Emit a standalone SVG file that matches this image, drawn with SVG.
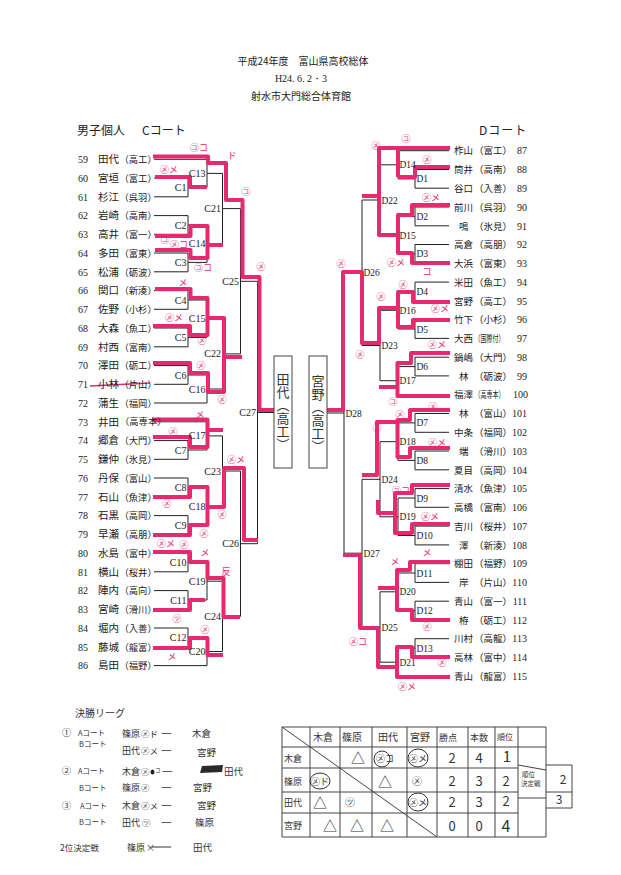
<svg xmlns="http://www.w3.org/2000/svg" width="621" height="875" viewBox="0 0 621 875">
<style>
.t{font-family:"Noto Sans CJK JP","Noto Sans CJK SC",sans-serif;fill:#222}
.num{font-family:"Liberation Serif",serif;font-size:10px;fill:#222}
.nm{font-family:"Noto Sans CJK JP",sans-serif;font-size:10.5px;fill:#222}
.sc{font-family:"Noto Sans CJK JP",sans-serif;font-size:9.3px;fill:#222}
.nr{font-family:"Noto Sans CJK JP",sans-serif;font-size:9.5px;fill:#222}
.sr{font-family:"Noto Sans CJK JP",sans-serif;font-size:9.5px;fill:#222}
.nn{font-family:"Liberation Serif",serif;font-size:10px;fill:#222;text-anchor:end}
.ll{font-family:"Liberation Serif",serif;font-size:10px;fill:#222;text-anchor:end}
.lr{font-family:"Liberation Serif",serif;font-size:9.5px;fill:#222}
.ln{fill:none;stroke:#222;stroke-width:1}
.pk{fill:none;stroke:#e52a6f;stroke-width:4;stroke-linejoin:round}
.pm{font-family:"Noto Sans CJK JP",sans-serif;font-size:9px;fill:#e52a6f;text-anchor:middle}
.hw{font-family:"Noto Sans CJK JP",sans-serif;fill:#333}
.tb{fill:none;stroke:#444;stroke-width:1}
.vt{font-family:"Noto Sans CJK JP",sans-serif;font-size:13px;fill:#333;writing-mode:vertical-rl;text-anchor:middle}
</style>
<rect width="621" height="875" fill="#fff"/>

<g id="header">
<text class="t" x="303" y="64.5" font-size="10" text-anchor="middle">平成24年度　富山県高校総体</text>
<text x="301" y="82" font-family="Liberation Serif,serif" font-size="10" fill="#222" text-anchor="middle">H24. 6. 2・3</text>
<text class="t" x="301" y="99.5" font-size="10" text-anchor="middle">射水市大門総合体育館</text>
<text class="t" x="77" y="135" font-size="12">男子個人</text>
<text class="t" x="142" y="135" font-size="12">Cコート</text>
<text class="t" x="479" y="135" font-size="12" letter-spacing="1">Dコート</text>
</g>

<g id="connectors" class="ln">
<path d="M154,178H188M154,196.8H188M154,215.6H188M154,234.3H188M154,253H188M154,271.8H188M154,290.6H188M154,309.3H188M154,328H188M154,346.8H188M154,365.6H188M154,384.3H188M154,440.6H188M154,459.3H188M154,478H188M154,496.8H188M154,515.6H188M154,534.3H188M154,553H188M154,571.8H188M154,590.6H188M154,609.3H188M154,628H188M154,646.8H188M154,159.3H207M154,403H207M154,421.8H207M154,665.6H207"/>
<path d="M188,178V196.8M188,215.6V234.3M188,253V271.8M188,290.6V309.3M188,328V346.8M188,365.6V384.3M188,440.6V459.3M188,478V496.8M188,515.6V534.3M188,553V571.8M188,590.6V609.3M188,628V646.8"/>
<path d="M188,187.4H207M188,225H207M188,262.4H207M188,300H207M188,337.4H207M188,375H207M188,450H207M188,487.4H207M188,525H207M188,562.4H207M188,600H207M188,637.4H207"/>
<path d="M207,159.3V187.4M207,225V262.4M207,300V337.4M207,375V403M207,421.8V450M207,487.4V525M207,562.4V600M207,637.4V665.6"/>
<path d="M207,173.4H222.5M207,243.7H222.5M207,318.7H222.5M207,389H222.5M207,435.9H222.5M207,506.2H222.5M207,581.2H222.5M207,651.5H222.5"/>
<path d="M222.5,173.4V243.7M222.5,318.7V389M222.5,435.9V506.2M222.5,581.2V651.5M222.5,208.6H240.5M222.5,353.9H240.5M222.5,471H240.5M222.5,616.4H240.5"/>
<path d="M240.5,208.6V353.9M240.5,471V616.4M240.5,281.3H257.5M240.5,543.7H257.5M257.5,281.3V543.7M257.5,412.5H274"/>
<path d="M449,169.5H415M449,188.2H415M449,207H415M449,225.8H415M449,244.5H415M449,263.3H415M449,282.1H415M449,300.9H415M449,319.6H415M449,338.4H415M449,357.2H415M449,375.9H415M449,413.5H415M449,432.3H415M449,451H415M449,469.8H415M449,488.6H415M449,507.3H415M449,526.1H415M449,544.9H415M449,563.7H415M449,582.4H415M449,601.2H415M449,620H415M449,638.7H415M449,657.5H415M449,150.7H398M449,394.7H398M449,676.3H398"/>
<path d="M415,169.5V188.2M415,207V225.8M415,244.5V263.3M415,282.1V300.9M415,319.6V338.4M415,357.2V375.9M415,413.5V432.3M415,451V469.8M415,488.6V507.3M415,526.1V544.9M415,563.7V582.4M415,601.2V620M415,638.7V657.5"/>
<path d="M415,178.9H398M415,216.4H398M415,253.9H398M415,291.5H398M415,329H398M415,366.6H398M415,422.9H398M415,460.4H398M415,498H398M415,535.5H398M415,573H398M415,610.6H398M415,648.1H398"/>
<path d="M398,150.7V178.9M398,216.4V253.9M398,291.5V329M398,366.6V394.7M398,422.9V460.4M398,498V535.5M398,573V610.6M398,648.1V676.3"/>
<path d="M398,164.8H380M398,235.2H380M398,310.3H380M398,380.7H380M398,441.7H380M398,516.8H380M398,591.8H380M398,662.2H380"/>
<path d="M380,164.8V235.2M380,310.3V380.7M380,441.7V516.8M380,591.8V662.2M380,200H362M380,345.5H362M380,479.3H362M380,627H362"/>
<path d="M362,200V345.5M362,479.3V627M362,272.8H344M362,553.2H344M344,272.8V553.2M344,413H327"/>
</g>

<g id="winner-lines" class="pk">
<path d="M153,156.5H208V163H226V200H242.5V277H259.5V410H274"/>
<path d="M155,177H190V187H207"/>
<path d="M155,236H190.5V226H207.5V258H190.5V250H155M207.5,245H223"/>
<path d="M155,289H190.5V298H207.5V335H190V326H153"/>
<path d="M207.5,318H224V392H208V373H190V363H153M224,357H242"/>
<path d="M153,419.5H207.5V447H190V437H153M207.5,430H223"/>
<path d="M153,497H190V487H207.5V525H190V535H153M207.5,507H224V468H244V540H258"/>
<path d="M153,552H190V562H207.5V578H223.5V617H240"/>
<path d="M153,610H190V600H205"/>
<path d="M153,648H190V638H207.5V655H223"/>
<path d="M450,148H379V196H362M398,148V177"/>
<path d="M450,167H415V177H398"/>
<path d="M450,205H412V215H398V253H412V263H450M398,235H379V196"/>
<path d="M450,302H413V292H398V327H413V320H450"/>
<path d="M398,308H379V343H362V272H343V410H327"/>
<path d="M450,353H411V363H397.5V396H450M397.5,387H379"/>
<path d="M450,410H410V420H397.5V457H410V448H450M397.5,422H377V475H362"/>
<path d="M450,485H412V493H395V533H412V524H450M395,513H378V500"/>
<path d="M450,562H410V570H397V610H412V620H450M397,588H378"/>
<path d="M450,657H412V647H397V677H450M397,667H378V628H360V555H343"/>
<path d="M90,386L150,383" stroke-width="1.5"/>
</g>

<g id="players-c">
<g id="p59"><text class="num" x="78" y="163">59</text><text class="nm" x="98" y="163">田代</text><text class="sc" x="119.5" y="163">（高工）</text></g>
<g id="p60"><text class="num" x="78" y="181.7">60</text><text class="nm" x="98" y="181.7">宮垣</text><text class="sc" x="119.5" y="181.7">（富工）</text></g>
<g id="p61"><text class="num" x="78" y="200.5">61</text><text class="nm" x="98" y="200.5">杉江</text><text class="sc" x="119.5" y="200.5">（呉羽）</text></g>
<g id="p62"><text class="num" x="78" y="219.3">62</text><text class="nm" x="98" y="219.3">岩崎</text><text class="sc" x="119.5" y="219.3">（高南）</text></g>
<g id="p63"><text class="num" x="78" y="238">63</text><text class="nm" x="98" y="238">高井</text><text class="sc" x="119.5" y="238">（富一）</text></g>
<g id="p64"><text class="num" x="78" y="256.7">64</text><text class="nm" x="98" y="256.7">多田</text><text class="sc" x="119.5" y="256.7">（富東）</text></g>
<g id="p65"><text class="num" x="78" y="275.5">65</text><text class="nm" x="98" y="275.5">松浦</text><text class="sc" x="119.5" y="275.5">（砺波）</text></g>
<g id="p66"><text class="num" x="78" y="294.3">66</text><text class="nm" x="98" y="294.3">関口</text><text class="sc" x="119.5" y="294.3">（新湊）</text></g>
<g id="p67"><text class="num" x="78" y="313">67</text><text class="nm" x="98" y="313">佐野</text><text class="sc" x="119.5" y="313">（小杉）</text></g>
<g id="p68"><text class="num" x="78" y="331.7">68</text><text class="nm" x="98" y="331.7">大森</text><text class="sc" x="119.5" y="331.7">（魚工）</text></g>
<g id="p69"><text class="num" x="78" y="350.5">69</text><text class="nm" x="98" y="350.5">村西</text><text class="sc" x="119.5" y="350.5">（富南）</text></g>
<g id="p70"><text class="num" x="78" y="369.3">70</text><text class="nm" x="98" y="369.3">澤田</text><text class="sc" x="119.5" y="369.3">（砺工）</text></g>
<g id="p71"><text class="num" x="78" y="388">71</text><text class="nm" x="98" y="388">小林</text><text class="sc" x="119.5" y="388">（片山）</text></g>
<g id="p72"><text class="num" x="78" y="406.7">72</text><text class="nm" x="98" y="406.7">蒲生</text><text class="sc" x="119.5" y="406.7">（福岡）</text></g>
<g id="p73"><text class="num" x="78" y="425.5">73</text><text class="nm" x="98" y="425.5">井田</text><text class="sc" x="120" y="425" font-size="6.6">（高専本）</text></g>
<g id="p74"><text class="num" x="78" y="444.3">74</text><text class="nm" x="98" y="444.3">郷倉</text><text class="sc" x="119.5" y="444.3">（大門）</text></g>
<g id="p75"><text class="num" x="78" y="463">75</text><text class="nm" x="98" y="463">鎌仲</text><text class="sc" x="119.5" y="463">（氷見）</text></g>
<g id="p76"><text class="num" x="78" y="481.7">76</text><text class="nm" x="98" y="481.7">丹保</text><text class="sc" x="119.5" y="481.7">（富山）</text></g>
<g id="p77"><text class="num" x="78" y="500.5">77</text><text class="nm" x="98" y="500.5">石山</text><text class="sc" x="119.5" y="500.5">（魚津）</text></g>
<g id="p78"><text class="num" x="78" y="519.3">78</text><text class="nm" x="98" y="519.3">石黒</text><text class="sc" x="119.5" y="519.3">（高岡）</text></g>
<g id="p79"><text class="num" x="78" y="538">79</text><text class="nm" x="98" y="538">早瀬</text><text class="sc" x="119.5" y="538">（高朋）</text></g>
<g id="p80"><text class="num" x="78" y="556.7">80</text><text class="nm" x="98" y="556.7">水島</text><text class="sc" x="119.5" y="556.7">（富中）</text></g>
<g id="p81"><text class="num" x="78" y="575.5">81</text><text class="nm" x="98" y="575.5">横山</text><text class="sc" x="119.5" y="575.5">（桜井）</text></g>
<g id="p82"><text class="num" x="78" y="594.3">82</text><text class="nm" x="98" y="594.3">陣内</text><text class="sc" x="119.5" y="594.3">（高向）</text></g>
<g id="p83"><text class="num" x="78" y="613">83</text><text class="nm" x="98" y="613">宮崎</text><text class="sc" x="119.5" y="613">（滑川）</text></g>
<g id="p84"><text class="num" x="78" y="631.7">84</text><text class="nm" x="98" y="631.7">堀内</text><text class="sc" x="119.5" y="631.7">（入善）</text></g>
<g id="p85"><text class="num" x="78" y="650.5">85</text><text class="nm" x="98" y="650.5">藤城</text><text class="sc" x="119.5" y="650.5">（龍富）</text></g>
<g id="p86"><text class="num" x="78" y="669.3">86</text><text class="nm" x="98" y="669.3">島田</text><text class="sc" x="119.5" y="669.3">（福野）</text></g>
</g>

<g id="players-d">
<g id="p87"><text class="nr" x="454" y="154.4">柞山</text><text class="sr" x="474" y="154.4">（富工）</text><text class="nn" x="527" y="154.4">87</text></g>
<g id="p88"><text class="nr" x="454" y="173.2">筒井</text><text class="sr" x="474" y="173.2">（高南）</text><text class="nn" x="527" y="173.2">88</text></g>
<g id="p89"><text class="nr" x="454" y="191.9">谷口</text><text class="sr" x="474" y="191.9">（入善）</text><text class="nn" x="527" y="191.9">89</text></g>
<g id="p90"><text class="nr" x="454" y="210.7">前川</text><text class="sr" x="474" y="210.7">（呉羽）</text><text class="nn" x="527" y="210.7">90</text></g>
<g id="p91"><text class="nr" x="459" y="229.5">鳴</text><text class="sr" x="474" y="229.5">（氷見）</text><text class="nn" x="527" y="229.5">91</text></g>
<g id="p92"><text class="nr" x="454" y="248.2">高倉</text><text class="sr" x="474" y="248.2">（高朋）</text><text class="nn" x="527" y="248.2">92</text></g>
<g id="p93"><text class="nr" x="454" y="267">大浜</text><text class="sr" x="474" y="267">（富東）</text><text class="nn" x="527" y="267">93</text></g>
<g id="p94"><text class="nr" x="454" y="285.8">米田</text><text class="sr" x="474" y="285.8">（魚工）</text><text class="nn" x="527" y="285.8">94</text></g>
<g id="p95"><text class="nr" x="454" y="304.6">宮野</text><text class="sr" x="474" y="304.6">（高工）</text><text class="nn" x="527" y="304.6">95</text></g>
<g id="p96"><text class="nr" x="454" y="323.3">竹下</text><text class="sr" x="474" y="323.3">（小杉）</text><text class="nn" x="527" y="323.3">96</text></g>
<g id="p97"><text class="nr" x="454" y="342.1">大西</text><text class="sr" x="474.5" y="341.6" font-size="6.4" textLength="30" lengthAdjust="spacingAndGlyphs">（国際付）</text><text class="nn" x="527" y="342.1">97</text></g>
<g id="p98"><text class="nr" x="454" y="360.9">鍋嶋</text><text class="sr" x="474" y="360.9">（大門）</text><text class="nn" x="527" y="360.9">98</text></g>
<g id="p99"><text class="nr" x="459" y="379.6">林</text><text class="sr" x="474" y="379.6">（砺波）</text><text class="nn" x="527" y="379.6">99</text></g>
<g id="p100"><text class="nr" x="454" y="398.4">福澤</text><text class="sr" x="474.5" y="397.9" font-size="6.4" textLength="30" lengthAdjust="spacingAndGlyphs">（高専本）</text><text class="nn" x="528" y="398.4">100</text></g>
<g id="p101"><text class="nr" x="459" y="417.2">林</text><text class="sr" x="474" y="417.2">（富山）</text><text class="nn" x="527" y="417.2">101</text></g>
<g id="p102"><text class="nr" x="454" y="436">中条</text><text class="sr" x="474" y="436">（福岡）</text><text class="nn" x="527" y="436">102</text></g>
<g id="p103"><text class="nr" x="459" y="454.7">端</text><text class="sr" x="474" y="454.7">（滑川）</text><text class="nn" x="527" y="454.7">103</text></g>
<g id="p104"><text class="nr" x="454" y="473.5">夏目</text><text class="sr" x="474" y="473.5">（高岡）</text><text class="nn" x="527" y="473.5">104</text></g>
<g id="p105"><text class="nr" x="454" y="492.3">清水</text><text class="sr" x="474" y="492.3">（魚津）</text><text class="nn" x="527" y="492.3">105</text></g>
<g id="p106"><text class="nr" x="454" y="511">高橋</text><text class="sr" x="474" y="511">（富南）</text><text class="nn" x="527" y="511">106</text></g>
<g id="p107"><text class="nr" x="454" y="529.8">吉川</text><text class="sr" x="474" y="529.8">（桜井）</text><text class="nn" x="527" y="529.8">107</text></g>
<g id="p108"><text class="nr" x="459" y="548.6">澤</text><text class="sr" x="474" y="548.6">（新湊）</text><text class="nn" x="527" y="548.6">108</text></g>
<g id="p109"><text class="nr" x="454" y="567.4">棚田</text><text class="sr" x="474" y="567.4">（福野）</text><text class="nn" x="527" y="567.4">109</text></g>
<g id="p110"><text class="nr" x="459" y="586.1">岸</text><text class="sr" x="474" y="586.1">（片山）</text><text class="nn" x="527" y="586.1">110</text></g>
<g id="p111"><text class="nr" x="454" y="604.9">青山</text><text class="sr" x="474" y="604.9">（富一）</text><text class="nn" x="527" y="604.9">111</text></g>
<g id="p112"><text class="nr" x="459" y="623.7">栫</text><text class="sr" x="474" y="623.7">（砺工）</text><text class="nn" x="527" y="623.7">112</text></g>
<g id="p113"><text class="nr" x="454" y="642.4">川村</text><text class="sr" x="474" y="642.4">（高龍）</text><text class="nn" x="527" y="642.4">113</text></g>
<g id="p114"><text class="nr" x="454" y="661.2">高林</text><text class="sr" x="474" y="661.2">（富中）</text><text class="nn" x="527" y="661.2">114</text></g>
<g id="p115"><text class="nr" x="454" y="680">青山</text><text class="sr" x="474" y="680">（龍富）</text><text class="nn" x="527" y="680">115</text></g>
</g>

<g id="matches-c">
<g id="C1"><text class="ll" x="186.5" y="190.9">C1</text></g>
<g id="C2"><text class="ll" x="186.5" y="228.5">C2</text></g>
<g id="C3"><text class="ll" x="186.5" y="265.9">C3</text></g>
<g id="C4"><text class="ll" x="186.5" y="303.5">C4</text></g>
<g id="C5"><text class="ll" x="186.5" y="340.9">C5</text></g>
<g id="C6"><text class="ll" x="186.5" y="378.5">C6</text></g>
<g id="C7"><text class="ll" x="186.5" y="453.5">C7</text></g>
<g id="C8"><text class="ll" x="186.5" y="490.9">C8</text></g>
<g id="C9"><text class="ll" x="186.5" y="528.5">C9</text></g>
<g id="C10"><text class="ll" x="186.5" y="565.9">C10</text></g>
<g id="C11"><text class="ll" x="186.5" y="603.5">C11</text></g>
<g id="C12"><text class="ll" x="186.5" y="640.9">C12</text></g>
<g id="C13"><text class="ll" x="205.5" y="176.9">C13</text></g>
<g id="C14"><text class="ll" x="205.5" y="247.2">C14</text></g>
<g id="C15"><text class="ll" x="205.5" y="322.2">C15</text></g>
<g id="C16"><text class="ll" x="205.5" y="392.5">C16</text></g>
<g id="C17"><text class="ll" x="205.5" y="439.4">C17</text></g>
<g id="C18"><text class="ll" x="205.5" y="509.7">C18</text></g>
<g id="C19"><text class="ll" x="205.5" y="584.7">C19</text></g>
<g id="C20"><text class="ll" x="205.5" y="655">C20</text></g>
<g id="C21"><text class="ll" x="221" y="212.1">C21</text></g>
<g id="C22"><text class="ll" x="221" y="357.4">C22</text></g>
<g id="C23"><text class="ll" x="221" y="474.5">C23</text></g>
<g id="C24"><text class="ll" x="221" y="619.9">C24</text></g>
<g id="C25"><text class="ll" x="239" y="284.8">C25</text></g>
<g id="C26"><text class="ll" x="239" y="547.2">C26</text></g>
<g id="C27"><text class="ll" x="256" y="416">C27</text></g>
</g>

<g id="matches-d">
<g id="D1"><text class="lr" x="416.5" y="182.4">D1</text></g>
<g id="D2"><text class="lr" x="416.5" y="219.9">D2</text></g>
<g id="D3"><text class="lr" x="416.5" y="257.4">D3</text></g>
<g id="D4"><text class="lr" x="416.5" y="295">D4</text></g>
<g id="D5"><text class="lr" x="416.5" y="332.5">D5</text></g>
<g id="D6"><text class="lr" x="416.5" y="370.1">D6</text></g>
<g id="D7"><text class="lr" x="416.5" y="426.4">D7</text></g>
<g id="D8"><text class="lr" x="416.5" y="463.9">D8</text></g>
<g id="D9"><text class="lr" x="416.5" y="501.5">D9</text></g>
<g id="D10"><text class="lr" x="416.5" y="539">D10</text></g>
<g id="D11"><text class="lr" x="416.5" y="576.5">D11</text></g>
<g id="D12"><text class="lr" x="416.5" y="614.1">D12</text></g>
<g id="D13"><text class="lr" x="416.5" y="651.6">D13</text></g>
<g id="D14"><text class="lr" x="399.5" y="168.3">D14</text></g>
<g id="D15"><text class="lr" x="399.5" y="238.7">D15</text></g>
<g id="D16"><text class="lr" x="399.5" y="313.8">D16</text></g>
<g id="D17"><text class="lr" x="399.5" y="384.2">D17</text></g>
<g id="D18"><text class="lr" x="399.5" y="445.2">D18</text></g>
<g id="D19"><text class="lr" x="399.5" y="520.3">D19</text></g>
<g id="D20"><text class="lr" x="399.5" y="595.3">D20</text></g>
<g id="D21"><text class="lr" x="399.5" y="665.7">D21</text></g>
<g id="D22"><text class="lr" x="381.5" y="203.5">D22</text></g>
<g id="D23"><text class="lr" x="381.5" y="349">D23</text></g>
<g id="D24"><text class="lr" x="381.5" y="482.8">D24</text></g>
<g id="D25"><text class="lr" x="381.5" y="630.5">D25</text></g>
<g id="D26"><text class="lr" x="363.5" y="276.3">D26</text></g>
<g id="D27"><text class="lr" x="363.5" y="556.7">D27</text></g>
<g id="D28"><text class="lr" x="345.5" y="416.5">D28</text></g>
</g>

<g id="champion-c">
<rect x="274" y="356" width="18" height="112" fill="#fff" stroke="#444" stroke-width="1"/>
<text class="vt" x="283" y="412">田代（高工）</text>
</g>
<g id="champion-d">
<rect x="309" y="356" width="18" height="112" fill="#fff" stroke="#444" stroke-width="1"/>
<text class="vt" x="318" y="414">宮野（高工）</text>
</g>

<g id="marks">
<text class="pm" x="199" y="151">㋙コ</text>
<text class="pm" x="232" y="159">ド</text>
<text class="pm" x="246" y="195">㋙</text>
<text class="pm" x="169" y="173">㋱メ</text>
<text class="pm" x="165" y="243">㋙</text>
<text class="pm" x="179" y="248">㋱コ</text>
<text class="pm" x="203" y="271">㋙コ</text>
<text class="pm" x="261" y="270">㋱</text>
<text class="pm" x="183" y="286">メ</text>
<text class="pm" x="174" y="321">㋱メ</text>
<text class="pm" x="202" y="344">㋱</text>
<text class="pm" x="201" y="369">㋱</text>
<text class="pm" x="222" y="403">㋱</text>
<text class="pm" x="200" y="418">メ</text>
<text class="pm" x="173" y="435">㋱</text>
<text class="pm" x="236" y="463">㋱メ</text>
<text class="pm" x="167" y="507">㋱</text>
<text class="pm" x="222" y="518">㋱</text>
<text class="pm" x="204" y="537">㋱</text>
<text class="pm" x="166" y="547">㋱メ</text>
<text class="pm" x="184" y="548">㋱</text>
<text class="pm" x="205" y="556">メ</text>
<text class="pm" x="226" y="575">反</text>
<text class="pm" x="177" y="622">㋡</text>
<text class="pm" x="205" y="633">㋱</text>
<text class="pm" x="172" y="660">メ</text>
<text class="pm" x="406" y="142">㋙</text>
<text class="pm" x="376" y="149">㋱</text>
<text class="pm" x="427" y="163">㋱</text>
<text class="pm" x="431" y="201">㋱メ</text>
<text class="pm" x="396" y="266">㋱メ</text>
<text class="pm" x="427" y="275">コ</text>
<text class="pm" x="341" y="267">㋱</text>
<text class="pm" x="403" y="288">㋱</text>
<text class="pm" x="381" y="300">㋱</text>
<text class="pm" x="440" y="312">㋱メ</text>
<text class="pm" x="360" y="358">㋱</text>
<text class="pm" x="437" y="348">㋱メ</text>
<text class="pm" x="393" y="405">㋙</text>
<text class="pm" x="433" y="410">㋱</text>
<text class="pm" x="400" y="418">㋱</text>
<text class="pm" x="377" y="431">㋱</text>
<text class="pm" x="437" y="446">㋱メ</text>
<text class="pm" x="401" y="494">㋙コ</text>
<text class="pm" x="430" y="520">㋱メ</text>
<text class="pm" x="427" y="556">メ</text>
<text class="pm" x="395" y="565">メ</text>
<text class="pm" x="427" y="630">㋱</text>
<text class="pm" x="358" y="645">㋱コ</text>
<text class="pm" x="442" y="666">㋱</text>
<text class="pm" x="407" y="690">㋱メ</text>
</g>

<g id="league-notes" class="hw">
<text x="75" y="717" font-size="10">決勝リーグ</text>
<text x="62" y="736" font-size="9">①</text>
<text x="78" y="736" font-size="7.5">Aコート</text>
<text x="122" y="737" font-size="9">篠原</text><text x="141" y="737" font-size="8.5">㋱ド</text><text x="161" y="737" font-size="12">—</text><text x="192" y="737" font-size="9.5">木倉</text>
<text x="79" y="747" font-size="7.5">Bコート</text>
<text x="122" y="754" font-size="9">田代</text><text x="141" y="754" font-size="8.5">㋱メ</text><text x="161" y="754" font-size="12">—</text><text x="197" y="756" font-size="9.5">宮野</text>
<text x="62" y="774" font-size="9">②</text>
<text x="78" y="774" font-size="7.5">Aコート</text>
<text x="122" y="775" font-size="9">木倉</text><text x="141" y="775" font-size="8.5">㋱</text><ellipse cx="152.5" cy="772" rx="2" ry="2.6" fill="#222"/><text x="155" y="772" font-size="5.5">コ</text><text x="162" y="775" font-size="12">—</text>
<path d="M202,766L223,765L222,772L200,773Z" fill="#2a2a2a"/><text x="224" y="775" font-size="9.5">田代</text>
<text x="79" y="791" font-size="7.5">Bコート</text>
<text x="122" y="791" font-size="9">篠原</text><text x="141" y="791" font-size="8.5">㋱</text><text x="161" y="791" font-size="12">—</text><text x="193" y="791" font-size="9.5">宮野</text>
<text x="62" y="809" font-size="9">③</text>
<text x="80" y="809" font-size="7.5">Aコート</text>
<text x="122" y="809" font-size="9">木倉</text><text x="141" y="809" font-size="8.5">㋱メ</text><text x="161" y="809" font-size="12">—</text><text x="197" y="809" font-size="9.5">宮野</text>
<text x="79" y="825" font-size="7.5">Bコート</text>
<text x="122" y="826" font-size="9">田代</text><text x="142" y="826" font-size="8.5">㋡</text><text x="161" y="826" font-size="12">—</text><text x="195" y="826" font-size="9.5">篠原</text>
<text x="60" y="851" font-size="8.5">2位決定戦</text>
<text x="127" y="851" font-size="9">篠原</text><text x="146" y="851" font-size="9" fill="#111">×</text><path d="M152,847H171" stroke="#333" stroke-width="1" fill="none"/><text x="193" y="851" font-size="9.5">田代</text>
</g>

<g id="league-table">
<path class="tb" d="M282,727H546M282,747H546M282,768H518M282,792H518M282,813H518M282,837H546M282,727V837M310,727V837M340,727V837M372,727V837M407,727V837M437,727V837M468,727V837M495,727V837M518,727V837M546,727V837M282,727L437,837M518,765L546,770M518,798H546M546,765H572M546,792H572M546,808H572M572,765V808"/>
<g class="hw" font-size="10">
<text x="313" y="741">木倉</text><text x="342" y="741">篠原</text><text x="378" y="741">田代</text><text x="410" y="741">宮野</text><text x="439" y="741" font-size="9">勝点</text><text x="470" y="741" font-size="9">本数</text><text x="497" y="740" font-size="8">順位</text>
<text x="284" y="762" font-size="9">木倉</text><text x="284" y="785" font-size="9">篠原</text><text x="284" y="806" font-size="9">田代</text><text x="284" y="829" font-size="9">宮野</text>
<text x="358" y="763" font-size="14" text-anchor="middle">△</text>
<text x="376" y="762" font-size="9">㋱コ</text><ellipse cx="382" cy="759" rx="8" ry="8" fill="none" stroke="#333"/>
<text x="418" y="762" font-size="9" text-anchor="middle">㋱メ</text><ellipse cx="418" cy="758" rx="10" ry="9" fill="none" stroke="#333"/>
<text x="452" y="763" font-size="13" text-anchor="middle">2</text><text x="479" y="763" font-size="13" text-anchor="middle">4</text><text x="507" y="762" font-size="15" text-anchor="middle">1</text>
<text x="320" y="785" font-size="9" text-anchor="middle">㋱ド</text><ellipse cx="320" cy="781" rx="10" ry="8" fill="none" stroke="#333"/>
<text x="385" y="787" font-size="14" text-anchor="middle">△</text>
<text x="417" y="785" font-size="10" text-anchor="middle">㋱</text>
<text x="452" y="786" font-size="13" text-anchor="middle">2</text><text x="479" y="786" font-size="13" text-anchor="middle">3</text><text x="506" y="786" font-size="13" text-anchor="middle">2</text>
<text x="320" y="808" font-size="14" text-anchor="middle">△</text>
<text x="350" y="806" font-size="10" text-anchor="middle">㋡</text>
<text x="418" y="806" font-size="9" text-anchor="middle">㋱メ</text><ellipse cx="418" cy="802" rx="10" ry="9" fill="none" stroke="#333"/>
<text x="452" y="807" font-size="13" text-anchor="middle">2</text><text x="479" y="807" font-size="13" text-anchor="middle">3</text><text x="506" y="806" font-size="13" text-anchor="middle">2</text>
<text x="330" y="831" font-size="14" text-anchor="middle">△</text><text x="357" y="831" font-size="14" text-anchor="middle">△</text><text x="387" y="831" font-size="14" text-anchor="middle">△</text>
<text x="452" y="831" font-size="13" text-anchor="middle">0</text><text x="479" y="831" font-size="13" text-anchor="middle">0</text><text x="506" y="832" font-size="16" text-anchor="middle">4</text>
<text x="522" y="777" font-size="6.5">順位</text><text x="521" y="786" font-size="6.5">決定戦</text>
<text x="563" y="784" font-size="12" text-anchor="middle">2</text><text x="559" y="804" font-size="12" text-anchor="middle">3</text>
</g>
</g>
</svg>
